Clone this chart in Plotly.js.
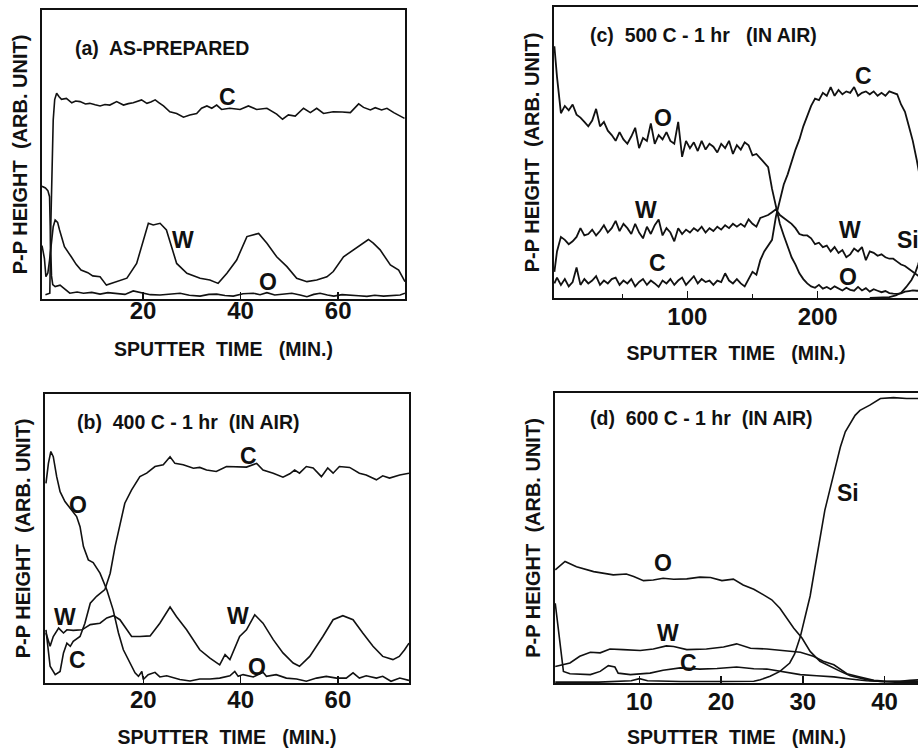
<!DOCTYPE html>
<html>
<head>
<meta charset="utf-8">
<script src="https://cdn.plot.ly/plotly-3.0.1.min.js"></script>
<style>
html,body{margin:0;padding:0;background:#fff;overflow:hidden;}
#chart{width:918px;height:748px;}
</style>
</head>
<body>
<div id="chart"></div>
<script>
// ---------- Panel (a): AS-PREPARED ----------
const aCx = [0.0, 0.9, 1.1, 1.3, 1.6, 1.9, 2.3, 2.8, 3.3, 4.3, 5.4, 6.2, 7.1, 8.2, 9.1, 10.2, 11.2, 12.2, 13.2, 14.6, 16.0, 17.0, 18.0, 19.7, 20.8, 21.6, 22.5, 23.3, 24.2, 25.5, 26.9, 28.3, 29.6, 31.0, 32.0, 33.1, 34.1, 35.1, 36.1, 37.8, 39.9, 41.6, 43.3, 45.4, 47.4, 48.6, 49.8, 51.2, 52.9, 54.3, 55.6, 57.0, 59.0, 60.8, 62.5, 64.2, 65.2, 66.6, 67.6, 68.9, 70.0, 71.4, 72.7, 73.6];
const aCy = [1.5, 2, 25, 45, 62, 69, 71.2, 70, 69.1, 69.4, 67.9, 68.5, 68.3, 67.5, 67.7, 67.2, 66.8, 67.3, 67.1, 68.3, 67.1, 67.6, 67.9, 68.9, 67.7, 68.2, 68.9, 67.9, 66.8, 64.8, 64.2, 62.9, 63.7, 64.2, 66.0, 66.8, 66.0, 67.1, 65.6, 66.0, 65.6, 66.8, 65.6, 66.0, 64.0, 62.2, 63.7, 63.3, 66.0, 64.5, 66.0, 64.2, 64.8, 64.7, 64.5, 67.5, 66.3, 65.4, 66.2, 65.4, 66.0, 64.5, 63.3, 62.5];
const aOx = [-0.7, 0.0, 0.5, 0.85, 1.05, 1.25, 1.5, 2.0, 3.0, 4.0, 5.0, 6.5, 7.8, 9.5, 11.2, 12.8, 14.6, 16.3, 18.0, 19.0, 20.0, 21.5, 23.5, 25.5, 27.6, 29.5, 31.7, 33.5, 35.1, 36.8, 38.5, 40.5, 42.6, 44.0, 45.4, 47.0, 48.8, 50.5, 52.2, 53.6, 55.0, 56.3, 57.8, 59.1, 60.8, 62.5, 64.2, 65.9, 67.5, 69.3, 71.0, 72.7, 73.7];
const aOy = [39, 38.4, 37.5, 35.4, 20, 8, 5, 4.3, 4.8, 3.5, 2.0, 2.4, 2.0, 2.3, 1.7, 2.2, 2.0, 1.6, 2.8, 2.4, 2.0, 1.5, 1.4, 1.8, 2.0, 1.3, 1.0, 1.6, 1.7, 1.2, 1.0, 1.8, 2.0, 1.5, 2.2, 1.4, 1.7, 2.0, 1.4, 0.8, 1.6, 2.0, 1.4, 1.0, 1.5, 1.4, 1.1, 0.9, 1.3, 1.0, 1.2, 1.4, 2.0];
const aWx = [-0.7, -0.2, 0.1, 0.5, 0.85, 1.3, 1.6, 2.0, 2.5, 2.9, 3.9, 5.3, 6.3, 7.3, 8.7, 9.7, 11.2, 12.5, 14.6, 16.7, 18.7, 20.1, 21.1, 22.1, 23.5, 24.8, 25.9, 26.9, 29.0, 31.7, 33.7, 35.4, 37.2, 39.2, 41.3, 42.3, 43.7, 45.4, 47.4, 49.5, 51.5, 53.6, 55.6, 57.7, 59.0, 61.1, 63.1, 64.9, 66.2, 67.2, 68.6, 70.7, 72.4, 73.7];
const aWy = [18.5, 14, 7.7, 9, 13.5, 20, 25, 27.3, 26.5, 23.9, 18.1, 14.6, 12, 10, 9.1, 8, 7.7, 4.8, 6.0, 7.2, 12.3, 20.4, 26.2, 25.6, 26.2, 23.9, 18.1, 12.3, 8.9, 7.2, 6.6, 5.4, 8.9, 13.5, 21.6, 22.1, 22.7, 19.3, 14.6, 11.2, 7.2, 6.0, 6.6, 7.7, 9.5, 14.6, 17.0, 19.3, 20.6, 19.3, 17.0, 11.8, 10.0, 6.0];

// ---------- Panel (b): 400 C - 1 hr ----------
const bOx = [0, 0.5, 1.0, 1.5, 2.2, 2.9, 3.9, 5.0, 6.3, 7.0, 7.7, 8.7, 9.7, 11.1, 12.5, 13.8, 14.9, 15.9, 17.3, 18.3, 19.0, 19.7, 20.0, 21.0, 22.4, 23.4, 24.8, 26.2, 27.5, 29.6, 31.6, 33.7, 35.7, 37.8, 38.8, 39.5, 40.5, 42.6, 44.6, 45.3, 47.3, 49.4, 51.5, 53.5, 55.6, 57.6, 59.7, 61.7, 63.1, 64.4, 65.8, 67.9, 69.2, 70.9, 72.7, 74.6];
const bOy = [69.1, 76, 80.1, 78.3, 71.4, 66.2, 62.8, 60.5, 57.6, 54.1, 47.2, 42.6, 41.7, 38.0, 32.3, 25.3, 17.3, 11.5, 6.9, 3.5, 2.3, 4.0, 1.2, 2.9, 3.7, 2.1, 2.5, 1.7, 1.2, 0.7, 1.4, 1.4, 1.7, 2.5, 4.0, 2.3, 2.9, 2.1, 3.7, 2.3, 2.9, 1.7, 1.4, 0.6, 1.7, 2.3, 1.7, 1.7, 3.5, 1.7, 2.5, 1.7, 2.3, 0.6, 1.7, 0.9];
const bCx = [0, 0.85, 1.9, 2.9, 3.6, 4.3, 5.0, 5.6, 7.0, 8.0, 9.1, 10.4, 12.1, 13.2, 14.2, 15.2, 16.2, 17.6, 19.3, 20.7, 22.4, 24.1, 25.5, 26.5, 28.2, 30.3, 31.6, 33.0, 35.0, 37.1, 39.1, 41.2, 43.3, 44.6, 46.7, 48.7, 50.1, 51.1, 52.1, 53.5, 54.9, 56.6, 57.9, 59.0, 60.3, 62.4, 64.4, 65.8, 67.9, 69.2, 70.6, 72.7, 74.6];
const bCy = [18.4, 5.8, 2.9, 4.0, 10.4, 13.8, 12.7, 14.4, 16.1, 20.7, 27.6, 30.0, 32.3, 38.0, 47.2, 55.3, 62.2, 66.8, 71.4, 72.6, 74.9, 75.5, 78.3, 76.0, 75.5, 74.3, 74.6, 73.7, 73.2, 74.9, 74.9, 74.7, 76.0, 73.7, 72.6, 71.2, 72.4, 73.7, 72.6, 74.9, 74.4, 71.4, 74.4, 72.6, 74.9, 74.6, 72.6, 72.0, 70.3, 71.7, 70.9, 72.0, 72.6];
const bWx = [0, 0.85, 1.5, 2.6, 3.6, 4.3, 5.6, 7.4, 9.1, 11.1, 12.5, 13.9, 15.2, 16.2, 17.6, 19.3, 21.4, 23.4, 25.5, 26.8, 28.9, 31.6, 33.7, 35.7, 36.8, 37.8, 39.8, 41.2, 42.9, 44.6, 46.7, 48.7, 50.8, 52.1, 54.2, 56.9, 59.0, 61.0, 63.1, 65.1, 67.2, 69.2, 71.3, 72.6, 73.7, 74.6];
const bWy = [17.3, 12.7, 16.1, 19.0, 17.3, 18.4, 18.2, 18.4, 20.2, 20.7, 22.5, 23.3, 21.9, 19.6, 16.1, 16.1, 16.3, 20.7, 26.3, 23.0, 18.4, 11.5, 8.6, 6.3, 9.8, 8.1, 16.1, 18.4, 23.6, 20.7, 15.0, 10.4, 6.9, 5.8, 9.2, 16.1, 21.9, 23.3, 21.9, 17.3, 12.7, 9.2, 8.1, 9.2, 11.5, 13.8];

// ---------- Panel (c): 500 C - 1 hr ----------
const cX = [-2, 0, 3, 6, 9, 12, 15, 18, 21, 24, 27, 30, 33, 36, 39, 42, 45, 48, 51, 54, 57, 60, 63, 66, 69, 72, 75, 78, 81, 84, 87, 90, 93, 96, 99, 102, 105, 108, 111, 114, 117, 120, 123, 126, 129, 132, 135, 138, 141, 144, 147, 150, 153, 156, 159, 162, 165, 168, 171, 174, 177, 180, 183, 186, 189, 192, 195, 198, 201, 204, 207, 210, 213, 216, 219, 222, 225, 228, 231, 234, 237, 240, 243, 246, 249, 252, 255, 258, 261, 264, 267, 270, 273, 276, 279, 282, 285];
const cOy = [86.5, 76, 63.5, 66, 64.5, 66.5, 63, 62, 60.5, 59, 61, 65, 59, 60.5, 57.5, 56, 54, 57, 54.5, 53, 55.5, 58.5, 51.5, 55, 54, 60, 53, 56, 54.5, 57, 54, 53, 60.5, 48.5, 54, 51.5, 53.5, 50.5, 54, 51, 53, 52, 50, 53, 51.5, 54, 49.5, 52.5, 51, 53.5, 52.5, 49, 49.5, 48, 46.5, 45, 37.5, 31, 25.5, 21.5, 18, 14, 11.5, 8.5, 6.5, 5, 4, 3.5, 4.5, 3.2, 3.8, 3, 4, 3.2, 2.6, 3.5, 2.8, 2.5, 3.8, 2.6, 3.4, 2.2, 3, 2.5, 2, 2.4, 1.7, 1.5, 1.4, 1.6, 2.2, 2.4, 2.6, 2.5, 2.5, 2.4, 2.4];
const cWy = [9, 16, 21, 20, 18.5, 19.5, 21, 24, 21.5, 22, 23.5, 21.5, 23, 25, 22.5, 24, 26.5, 23, 25.5, 24, 22, 25.5, 22.5, 20.5, 24.5, 22, 25, 27, 21.5, 24, 22.5, 19.5, 24, 22, 23.5, 22.5, 24, 23, 24.5, 22.5, 24, 23, 24.5, 23.5, 25, 24, 25.5, 24.5, 25.5, 24.5, 27, 25.5, 24.5, 27.5, 28, 28.5, 29.5, 30.5, 28.5, 27.5, 26.5, 25.5, 24, 22, 21.5, 21.5, 20.5, 18.5, 19, 17.5, 18, 16, 17.5, 15.5, 16.5, 14, 15, 17, 16, 17.5, 13, 16, 15.5, 14.5, 15, 14, 13.5, 13.5, 12.5, 11.5, 11, 10, 9, 8, 7, 6, 5.5];
const cCy = [5, 7, 4.5, 6.5, 4, 5.5, 10.5, 4.5, 6.5, 5, 6, 7.5, 4.5, 6, 5, 6.5, 7, 4.5, 6, 5, 6.5, 4, 5.5, 6.5, 4.5, 6, 5, 3.8, 6, 5, 6.5, 4.5, 6, 7, 4.5, 6, 7.5, 5, 6.5, 5.5, 6, 4.5, 6, 5.5, 8.5, 6, 5, 6.5, 5, 4, 6.5, 9, 8, 13, 16, 18, 20, 28, 34, 39, 42.5, 47, 51, 54.5, 59, 62.5, 66, 68.5, 68, 70.5, 69.5, 72.5, 69.5, 71.5, 70, 71, 70.5, 72.5, 69.5, 70.5, 71, 70, 71, 69.5, 70.5, 69.5, 71, 70.5, 70, 66.5, 64, 59, 54, 47.5, 40, 33, 27];
const cSix = [240, 250, 255, 260, 264, 268, 272, 275, 277, 280, 285];
const cSiy = [0, 0.1, 0.3, 0.9, 1.8, 3.8, 6.2, 8.8, 11.3, 16, 24];

// ---------- Panel (d): 600 C - 1 hr ----------
const dOx = [-0.3, 0.9, 2.3, 4.4, 6.8, 8.4, 9.3, 10.5, 11.7, 12.9, 14.2, 15.8, 17.4, 18.7, 20.1, 21.5, 22.7, 24.0, 25.2, 26.2, 27.2, 28.0, 28.9, 29.9, 30.9, 32.1, 33.3, 34.6, 35.8, 37.0, 38.2, 39.5, 40.7, 41.9, 44.2];
const dOy = [39, 41.9, 40.1, 38.4, 37.3, 37.6, 36.7, 35.3, 35.5, 36.1, 35.8, 35.9, 36.5, 36.4, 35.3, 35.8, 33.8, 32.3, 30.4, 28.7, 25.8, 22.4, 18.9, 15.5, 10.9, 7.5, 5.7, 4.0, 2.5, 1.7, 0.9, 0.5, 0.4, 0.2, 0.3];
const dWx = [-0.3, 1.5, 2.7, 4.0, 5.2, 6.4, 8.0, 10.1, 11.7, 13.3, 14.2, 15.8, 18.2, 20.3, 21.9, 23.6, 25.6, 28.0, 29.7, 31.3, 32.5, 33.8, 35.4, 37.0, 38.7, 40.3, 41.9, 43.1, 44.2];
const dWy = [5.7, 6.9, 9.2, 10.6, 10.4, 11.7, 11.5, 11.2, 11.7, 12.8, 12.6, 11.5, 11.7, 12.4, 13.5, 12.0, 11.7, 11.2, 10.6, 9.2, 7.5, 6.3, 3.2, 2.1, 0.9, 0.6, 0.6, 0.9, 1.1];
const dCx = [-0.3, 0.3, 0.7, 1.5, 4.0, 5.2, 6.2, 7.0, 7.4, 8.9, 11.3, 12.9, 15.0, 17.4, 19.5, 21.9, 24.0, 25.6, 27.2, 28.4, 29.7, 31.7, 33.8, 35.8, 37.8, 39.9, 41.9, 44.2];
const dCy = [27.5, 13.8, 4.0, 3.2, 2.9, 4.0, 6.0, 5.5, 3.4, 2.9, 3.4, 4.4, 5.2, 4.8, 5.0, 5.5, 4.9, 4.8, 4.0, 3.4, 2.9, 2.5, 2.1, 1.4, 0.8, 0.5, 0.5, 0.6];
const dSix = [-0.3, 5, 9, 10, 11, 15, 20, 24, 24.8, 26, 27.2, 28.4, 29.0, 29.7, 30.3, 30.9, 31.5, 32.1, 32.7, 33.3, 34.0, 34.6, 35.2, 35.8, 36.4, 37.0, 38.2, 39.5, 41.1, 42.7, 44.2];
const dSiy = [0.3, 0.3, 0.8, 1.5, 0.8, 0.5, 0.5, 0.6, 1.1, 2.3, 4.0, 6.9, 10, 16, 23, 30, 40, 50.5, 59.6, 66.5, 74.5, 81.4, 86.6, 89.4, 92.3, 94.0, 95.8, 98.1, 98.4, 98.1, 98.1];

// tick labels
const aTicks = [20, 40, 60];
const bTicks = [20, 40, 60];
const cTicks = [100, 200];
const cMinor = [50, 150];
const dTicks = [10, 20, 30, 40];

const FONT = 'Liberation Sans, Arial, Helvetica, sans-serif';
const W = 918, H = 748;
const NB = '\u00a0';

function line(x, y, xa, ya, w) {
  return {x: x, y: y, xaxis: xa, yaxis: ya, type: 'scatter', mode: 'lines',
          line: {color: '#111', width: w || 1.6}, hoverinfo: 'skip'};
}
const data = [
  line(aCx, aCy, 'x', 'y'), line(aOx, aOy, 'x', 'y'), line(aWx, aWy, 'x', 'y'),
  line(bOx, bOy, 'x2', 'y2'), line(bCx, bCy, 'x2', 'y2'), line(bWx, bWy, 'x2', 'y2'),
  line(cX, cOy, 'x3', 'y3', 1.8), line(cX, cWy, 'x3', 'y3', 1.8), line(cX, cCy, 'x3', 'y3', 1.8), line(cSix, cSiy, 'x3', 'y3', 1.8),
  line(dOx, dOy, 'x4', 'y4'), line(dWx, dWy, 'x4', 'y4'), line(dCx, dCy, 'x4', 'y4'), line(dSix, dSiy, 'x4', 'y4')
];

function xax(dom, range, ticks, anchor, tstand, standoff, minor) {
  const ax = {
    domain: [dom[0] / W, dom[1] / W], range: range, anchor: anchor,
    tickmode: 'array', tickvals: ticks, ticktext: ticks.map(String),
    ticks: 'inside', ticklen: 7, tickwidth: 1.6, tickcolor: '#111',
    showline: true, linecolor: '#111', linewidth: 2, mirror: true,
    showgrid: false, zeroline: false, fixedrange: true,
    ticklabelstandoff: tstand,
    tickfont: {family: FONT, size: 24, color: '#111', weight: 'bold'},
    title: {text: 'SPUTTER' + NB + ' TIME ' + NB + NB + '(MIN.)', standoff: standoff,
            font: {family: FONT, size: 19.5, color: '#111', weight: 'bold'}}
  };
  if (minor) ax.minor = {tickmode: 'array', tickvals: minor, ticks: 'inside', ticklen: 4, tickwidth: 1.2, tickcolor: '#111', showgrid: false};
  return ax;
}
function yax(dom, anchor, mirror, standoff) {
  return {
    domain: [1 - dom[1] / H, 1 - dom[0] / H], range: [0, 100], anchor: anchor,
    showticklabels: false, ticks: '', showline: true, linecolor: '#111', linewidth: 2,
    mirror: mirror, showgrid: false, zeroline: false, fixedrange: true,
    title: {text: 'P-P HEIGHT ' + NB + '(ARB. UNIT)', standoff: standoff,
            font: {family: FONT, size: 20, color: '#111', weight: 'bold'}}
  };
}

function P(px, py) { return {x: px / W, y: 1 - py / H}; }
function lab(text, px, py, size, anchor) {
  const p = P(px, py);
  return {text: text, x: p.x, y: p.y, xref: 'paper', yref: 'paper', showarrow: false,
          xanchor: anchor || 'center', yanchor: 'middle',
          font: {family: FONT, size: size, color: '#111', weight: 'bold'}};
}
const annotations = [
  lab('(a)' + NB + ' AS-PREPARED', 73, 48, 19.5, 'left'),
  lab('(b)' + NB + ' 400 C - 1 hr ' + NB + '(IN AIR)', 75, 422, 19.5, 'left'),
  lab('(c)' + NB + ' 500 C - 1 hr ' + NB + NB + '(IN AIR)', 588, 35, 19.5, 'left'),
  lab('(d)' + NB + ' 600 C - 1 hr ' + NB + '(IN AIR)', 588, 418, 19.5, 'left'),
  lab('C', 227, 97, 23), lab('W', 183, 240, 23), lab('O', 268, 282, 23),
  lab('C', 248, 456, 23), lab('O', 78, 505, 23), lab('W', 65, 617, 23), lab('C', 77, 660, 23),
  lab('W', 238, 616, 23), lab('O', 257, 667, 23),
  lab('O', 663, 118, 23), lab('W', 646, 210, 23), lab('C', 657, 263, 23), lab('C', 863, 76, 23),
  lab('W', 850, 230, 23), lab('O', 848, 277, 23), lab('Si', 895, 240, 23, 'left'),
  lab('O', 663, 563, 23), lab('W', 668, 633, 23), lab('C', 688, 663, 23), lab('Si', 848, 493, 23)
];

const layout = {
  width: W, height: H, margin: {l: 0, r: 0, t: 0, b: 0, pad: 0},
  paper_bgcolor: '#fff', plot_bgcolor: '#fff', showlegend: false,
  xaxis:  xax([42, 405], [-0.7, 73.7], aTicks, 'y', -11, 20),
  yaxis:  yax([10, 299], 'x', true, 7),
  xaxis2: xax([45, 409], [-0.2, 74.6], bTicks, 'y2', -6, 30),
  yaxis2: yax([394, 683], 'x2', true, 7),
  xaxis3: xax([554, 918], [-2.3, 277], cTicks, 'y3', -4, 18, cMinor),
  yaxis3: yax([7, 298], 'x3', false, 7),
  xaxis4: xax([555, 918], [-0.33, 44.1], dTicks, 'y4', -4, 29),
  yaxis4: yax([393, 683], 'x4', false, 7),
  annotations: annotations
};

Plotly.newPlot('chart', data, layout, {staticPlot: true, displayModeBar: false});
</script>
</body>
</html>
